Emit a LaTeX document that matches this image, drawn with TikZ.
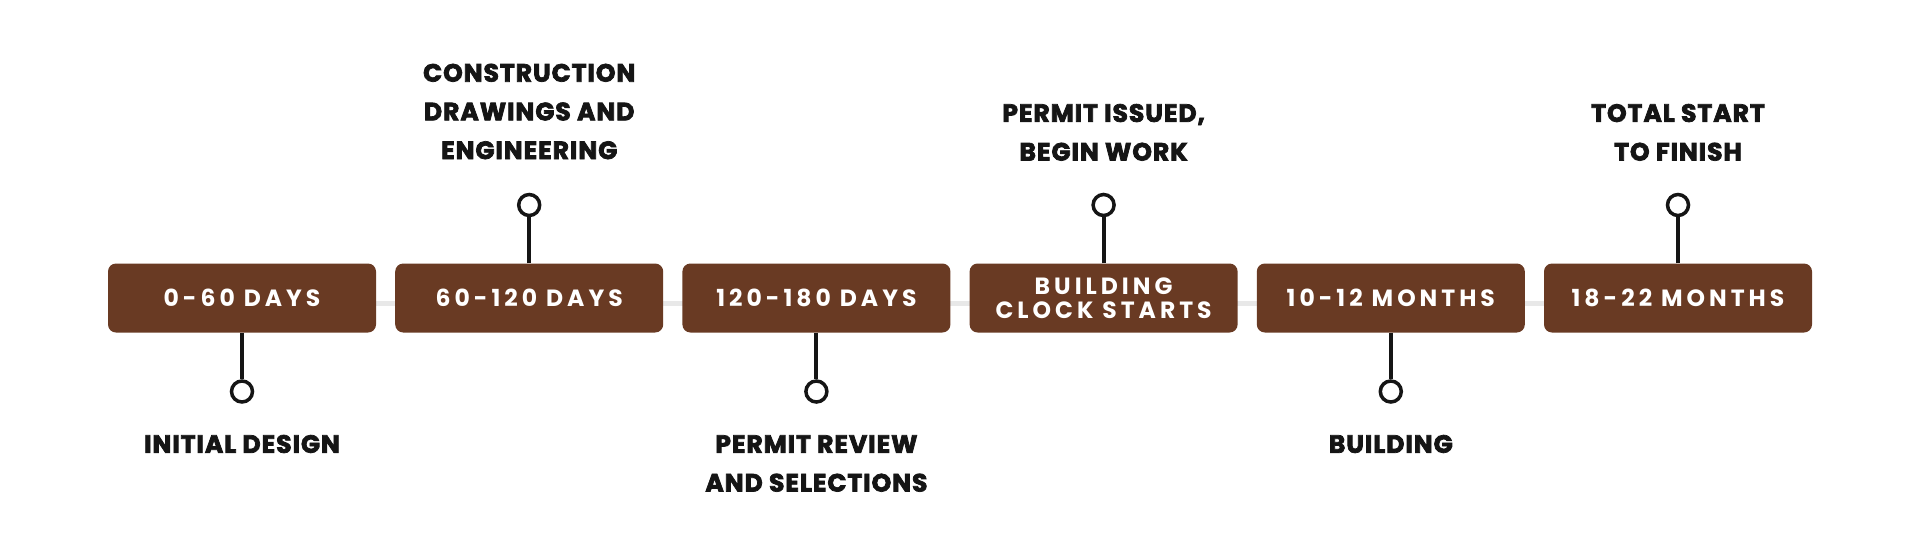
\documentclass[tikz,border=0pt]{standalone}
\usepackage{fontspec}
\setmainfont{Poppins}
\newfontfamily\labfont{Poppins}[LetterSpace=4, BoldFeatures={FakeBold=3}]
\newfontfamily\boxfont{Poppins}[LetterSpace=17]
\usetikzlibrary{backgrounds}
\definecolor{boxbrown}{HTML}{693A23}
\definecolor{inkblack}{HTML}{151515}
\definecolor{railgray}{HTML}{E8E8E8}
\tikzset{
  period/.style={fill=boxbrown, rounded corners=8pt, minimum width=268pt, minimum height=69pt,
    inner sep=0pt, text=white, align=center, font=\boxfont\bfseries\fontsize{23.5}{24.5}\selectfont},
  pinhead/.style={circle, draw=inkblack, line width=3.5pt, fill=white, minimum size=21pt, inner sep=0pt},
  stem/.style={draw=inkblack, line width=4pt},
  rail/.style={draw=railgray, line width=5pt},
  milestone/.style={text=inkblack, align=center, inner sep=0pt,
    font=\labfont\bfseries\fontsize{25}{38.7}\selectfont}
}
\begin{document}
\begin{tikzpicture}[x=1pt,y=-1pt]
\path[use as bounding box] (0,0) rectangle (1920,547);

% period boxes
\node[period] (b1) at (242,298) {0-60 DAYS};
\node[period] (b2) at (529.2,298) {60-120 DAYS};
\node[period] (b3) at (816.4,298) {120-180 DAYS};
\node[period] (b4) at (1103.6,298) {BUILDING\\CLOCK STARTS};
\node[period] (b5) at (1390.8,298) {10-12 MONTHS};
\node[period] (b6) at (1678,298) {18-22 MONTHS};

% rail behind boxes
\begin{pgfonlayer}{background}
\draw[rail] ([yshift=-5pt]b1.center) -- ([yshift=-5pt]b6.center);
\end{pgfonlayer}

% pins
\node[pinhead] (c1) at (242,391.5) {};
\node[pinhead] (c2) at (529.2,205) {};
\node[pinhead] (c3) at (816.4,391.5) {};
\node[pinhead] (c4) at (1103.6,205) {};
\node[pinhead] (c5) at (1390.8,391.5) {};
\node[pinhead] (c6) at (1678,205) {};

\draw[stem] (b1.south) -- (c1.north);
\draw[stem] (b2.north) -- (c2.south);
\draw[stem] (b3.south) -- (c3.north);
\draw[stem] (b4.north) -- (c4.south);
\draw[stem] (b5.south) -- (c5.north);
\draw[stem] (b6.north) -- (c6.south);

% milestone labels
\node[milestone] (t1) at (242,444) {INITIAL DESIGN};
\node[milestone] (t2) at (529.2,111.5) {CONSTRUCTION\\DRAWINGS AND\\ENGINEERING};
\node[milestone] (t3) at (816.4,463.5) {PERMIT REVIEW\\AND SELECTIONS};
\node[milestone] (t4) at (1103.6,132.4) {PERMIT ISSUED,\\BEGIN WORK};
\node[milestone] (t5) at (1390.8,444) {BUILDING};
\node[milestone] (t6) at (1678,132.4) {TOTAL START\\TO FINISH};
\end{tikzpicture}
\end{document}
